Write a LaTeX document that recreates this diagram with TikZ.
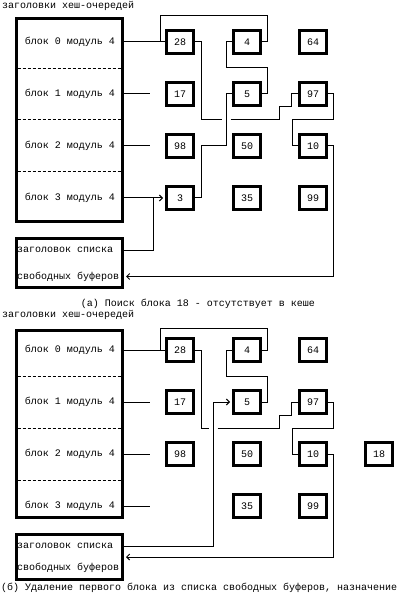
\documentclass[tikz,border=0pt]{standalone}
\usepackage{fontspec}
\setmainfont{Liberation Mono}
\usetikzlibrary{arrows.meta}
\begin{document}
\begin{tikzpicture}[x=1pt,y=-1pt,
  txt/.style={inner sep=0pt, font=\fontsize{10}{12}\selectfont, text height=5.4pt, text depth=0pt},
  buf/.style={draw, line width=2.6pt, minimum width=27.4pt, minimum height=23.4pt, inner sep=0pt,
              font=\fontsize{10}{12}\selectfont, text height=7pt, text depth=0pt},
  frame/.style={draw, line width=2.6pt},
  row/.style={txt, minimum width=108pt},
  link/.style={line width=1pt},
  tip/.style={-{Straight Barb[length=3pt,width=6pt]}, shorten >=2pt},
  sep/.style={line width=1pt, dash pattern=on 3pt off 2pt}
]
\useasboundingbox (0,0) rectangle (400,593);

% ================= panel (a) =================
\node[txt, anchor=west] (ta) at (2,5.5) {заголовки хеш-очередей};
\draw[frame] (16.3,18.6) rectangle (122.7,221.7);
\draw[sep] (17.6,68.5) -- (121.4,68.5);
\draw[sep] (17.6,120) -- (121.4,120);
\draw[sep] (17.6,172) -- (121.4,172);
\node[row] (ar0) at (70,42) {блок 0 модуль 4};
\node[row] (ar1) at (70,94) {блок 1 модуль 4};
\node[row] (ar2) at (70,146) {блок 2 модуль 4};
\node[row] (ar3) at (70,198) {блок 3 модуль 4};

\node[buf] (a28) at (180,42) {28};
\node[buf] (a4)  at (247,42) {4};
\node[buf] (a64) at (313,42) {64};
\node[buf] (a17) at (180,94) {17};
\node[buf] (a5)  at (247,94) {5};
\node[buf] (a97) at (313,94) {97};
\node[buf] (a98) at (180,146) {98};
\node[buf] (a50) at (247,146) {50};
\node[buf] (a10) at (313,146) {10};
\node[buf] (a3)  at (180,198) {3};
\node[buf] (a35) at (247,198) {35};
\node[buf] (a99) at (313,198) {99};

\node[frame, minimum width=106.4pt, minimum height=49.4pt, inner sep=0pt] (afl) at (69.5,263) {};
\node[txt, anchor=west] (afl1) at (17,250) {заголовок списка};
\node[txt, anchor=west] (afl2) at (17,276.5) {свободных буферов};

\coordinate (a0j) at (160,42);
\coordinate (a1e) at (150,94);
\coordinate (a2e) at (150,146);
\coordinate (a3j) at (153,198);

\draw[link] (ar0.east) -- (a28.west);
\draw[link] (ar1.east) -- (a1e);
\draw[link] (ar2.east) -- (a2e);
\draw[link] (ar3.east) -- (a3j);
\draw[link] (afl.east |- afl1) -| (a3j);
\draw[link, tip] (a3j) -- (a3.west);
\draw[link] (a3.east) -- ++(6,0) |- (226,146) |- (a5.west);
\draw[link] (a5.east) -- ++(5,0) |- (226,68) |- (a4.west);
\draw[link] (a4.east) -- ++(5,0) |- (160,16) -- (a0j);
\draw[link] (a28.east) -- ++(6,0) |- (221.5,120);
\draw[link] (230.5,120) -- (279,120) -- (279,107) -- (291,107) -- (291,94) -- (a97.west);
\draw[link] (a97.east) -- ++(5,0) |- (292,120) |- (a10.west);
\draw[link, tip] (a10.east) -- ++(5,0) |- (afl.east |- afl2);

\node[txt] (capa) at (198,304) {(а) Поиск блока 18 - отсутствует в кеше};

% ================= panel (b) =================
\node[txt, anchor=west] (tb) at (2,315) {заголовки хеш-очередей};
\draw[frame] (16.3,330.3) rectangle (122.7,517.7);
\draw[sep] (17.6,376.5) -- (121.4,376.5);
\draw[sep] (17.6,428) -- (121.4,428);
\draw[sep] (17.6,480.5) -- (121.4,480.5);
\node[row] (br0) at (70,350) {блок 0 модуль 4};
\node[row] (br1) at (70,402) {блок 1 модуль 4};
\node[row] (br2) at (70,454) {блок 2 модуль 4};
\node[row] (br3) at (70,506) {блок 3 модуль 4};

\node[buf] (b28) at (180,350) {28};
\node[buf] (b4)  at (247,350) {4};
\node[buf] (b64) at (313,350) {64};
\node[buf] (b17) at (180,402) {17};
\node[buf] (b5)  at (247,402) {5};
\node[buf] (b97) at (313,402) {97};
\node[buf] (b98) at (180,454) {98};
\node[buf] (b50) at (247,454) {50};
\node[buf] (b10) at (313,454) {10};
\node[buf] (b18) at (379,454) {18};
\node[buf] (b35) at (247,506) {35};
\node[buf] (b99) at (313,506) {99};

\node[frame, minimum width=106.4pt, minimum height=45.4pt, inner sep=0pt] (bfl) at (69.5,557) {};
\node[txt, anchor=west] (bfl1) at (17,546) {заголовок списка};
\node[txt, anchor=west] (bfl2) at (17,568) {свободных буферов};

\coordinate (b0j) at (160,350);
\coordinate (b1e) at (150,402);
\coordinate (b2e) at (150,454);
\coordinate (b3e) at (150,506);
\coordinate (bfj) at (213,402);

\draw[link] (br0.east) -- (b28.west);
\draw[link] (br1.east) -- (b1e);
\draw[link] (br2.east) -- (b2e);
\draw[link] (br3.east) -- (b3e);
\draw[link, tip] (bfl.east |- bfl1) -| (bfj) -- (b5.west);
\draw[link] (b5.east) -- ++(5,0) |- (226,376) |- (b4.west);
\draw[link] (b4.east) -- ++(5,0) |- (160,328) -- (b0j);
\draw[link] (b28.east) -- ++(6,0) |- (209,428);
\draw[link] (217.5,428) -- (279,428) -- (279,415) -- (291,415) -- (291,402) -- (b97.west);
\draw[link] (b97.east) -- ++(5,0) |- (292,428) |- (b10.west);
\draw[link, tip] (b10.east) -- ++(5,0) |- (bfl.east);

\node[txt, anchor=west] (capb) at (1,587.5) {(б) Удаление первого блока из списка свободных буферов, назначение};
\end{tikzpicture}
\end{document}
